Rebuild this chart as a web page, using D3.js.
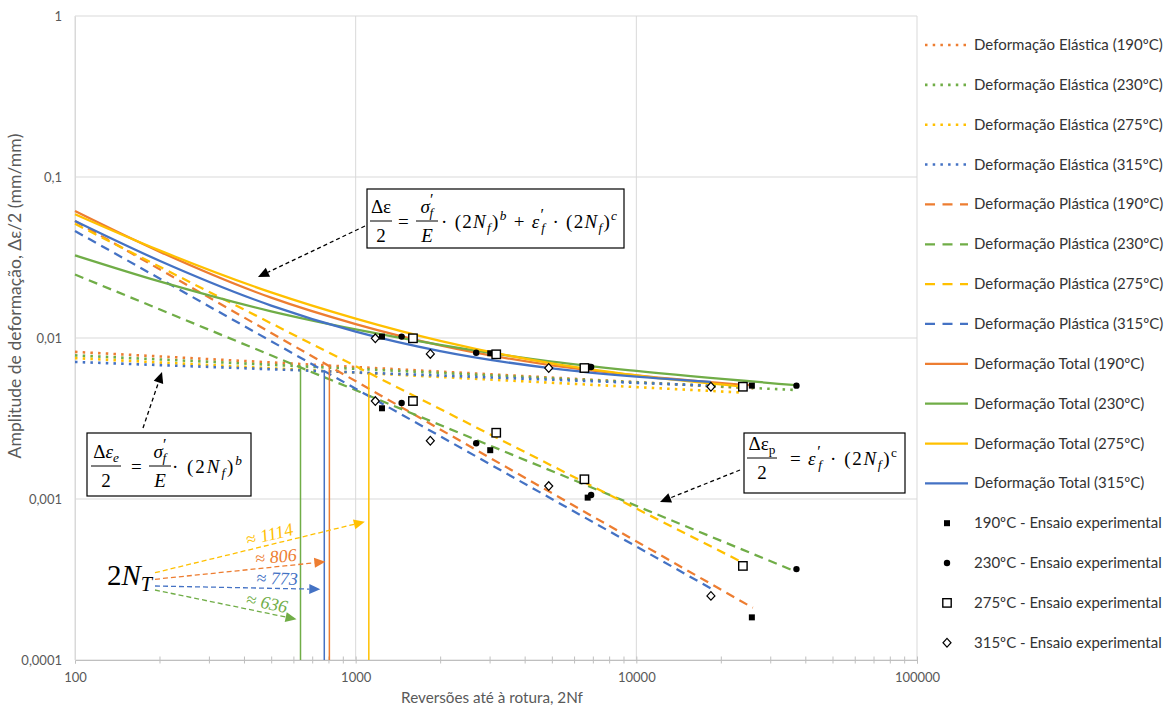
<!DOCTYPE html>
<html>
<head>
<meta charset="utf-8">
<script src="https://cdn.jsdelivr.net/npm/d3@7"></script>
<style>
  body { margin: 0; background: #fff; }
</style>
</head>
<body>
<svg id="chart" width="1173" height="708" font-family="Lato, 'Liberation Sans', sans-serif"></svg>
<script>
// temperatures + excel colours
var temps = ["190", "230", "275", "315"];
var colors = ["#ED7D31", "#70AD47", "#FFC000", "#4472C4"];

// elastic strain lines [2Nf, amplitude]
var elastic190 = [[100, 0.0082], [26000, 0.00486]];
var elastic230 = [[100, 0.0078], [37000, 0.00475]];
var elastic275 = [[100, 0.0075], [24000, 0.00458]];
var elastic315 = [[100, 0.0071], [18400, 0.00506]];

// plastic strain lines
var plastic190 = [[100, 0.0533], [26000, 0.000211]];
var plastic230 = [[100, 0.0248], [37000, 0.000354]];
var plastic275 = [[100, 0.0512], [24000, 0.000402]];
var plastic315 = [[100, 0.0462], [18400, 0.000279]];

// total strain curves
var total190 = [[100, 0.0615], [200, 0.0344], [500, 0.0178], [1000, 0.0122], [2000, 0.0090], [5000, 0.00677], [10000, 0.00587], [26000, 0.00507]];
var total230 = [[100, 0.0326], [200, 0.02245], [500, 0.01464], [1000, 0.0113], [2000, 0.00905], [5000, 0.00714], [10000, 0.00625], [37000, 0.0051]];
var total275 = [[100, 0.0587], [200, 0.0350], [500, 0.0192], [1000, 0.0132], [2000, 0.0096], [5000, 0.00695], [10000, 0.00585], [24000, 0.00498]];
var total315 = [[100, 0.0533], [200, 0.0302], [500, 0.0159], [1000, 0.01095], [2000, 0.00829], [5000, 0.00648], [10000, 0.00575], [18400, 0.00534]];

// experimental tests: reversals, total amplitude, plastic amplitude
var exp190N = [1241, 3016, 6709, 25800];
var exp190Total = [0.0102, 0.00804, 0.00663, 0.00506];
var exp190Plastic = [0.00366, 0.00201, 0.00102, 0.000184];
var exp230N = [1458, 2688, 6900, 37200];
var exp230Total = [0.0102, 0.0081, 0.0066, 0.00506];
var exp230Plastic = [0.00395, 0.00222, 0.00106, 0.000367];
var exp275N = [1600, 3168, 6531, 23970];
var exp275Total = [0.00996, 0.00792, 0.00651, 0.00498];
var exp275Plastic = [0.00406, 0.00258, 0.001326, 0.000384];
var exp315N = [1175, 1845, 4874, 18440];
var exp315Total = [0.00996, 0.00796, 0.00651, 0.00498];
var exp315Plastic = [0.00406, 0.0023, 0.001204, 0.00025];

// transition lives 2N_T
var transN = [806, 636, 1114, 773];

var xTicks = [100, 1000, 10000, 100000];
var yTicks = [0.0001, 0.001, 0.01, 0.1, 1];

var elastic = [elastic190, elastic230, elastic275, elastic315];
var plastic = [plastic190, plastic230, plastic275, plastic315];
var total = [total190, total230, total275, total315];
var expN = [exp190N, exp230N, exp275N, exp315N];
var expTotal = [exp190Total, exp230Total, exp275Total, exp315Total];
var expPlastic = [exp190Plastic, exp230Plastic, exp275Plastic, exp315Plastic];
var markers = ["fsquare", "circle", "osquare", "diamond"];

var svg = d3.select("#chart");
var serif = "'Liberation Serif', 'DejaVu Serif', serif";
var sans = "Lato, 'Liberation Sans', sans-serif";
var grey = "#595959";

var x = d3.scaleLog().domain([100, 100000]).range([75, 917]);
var y = d3.scaleLog().domain([0.0001, 1]).range([660, 16]);

// shrink/grow a text's font so it spans a given width
function fitWidth(t, w) {
  var fs = +t.attr("font-size");
  t.attr("font-size", fs * w / t.node().getComputedTextLength());
}

// gridlines
svg.append("g").selectAll("line").data(xTicks).enter().append("line")
  .attr("x1", d => x(d)).attr("x2", d => x(d)).attr("y1", 16).attr("y2", 660)
  .attr("stroke", "#d9d9d9").attr("stroke-width", 1);
svg.append("g").selectAll("line").data(yTicks).enter().append("line")
  .attr("x1", 75).attr("x2", 917).attr("y1", d => y(d)).attr("y2", d => y(d))
  .attr("stroke", "#d9d9d9").attr("stroke-width", 1);

// x axis with minor ticks
var minor = [];
xTicks.forEach(function(d) { for (var k = 1; k < 10; k++) if (d * k <= 100000) minor.push(d * k); });
var xAxis = svg.append("g").attr("transform", "translate(0,660)")
  .call(d3.axisBottom(x).tickValues(minor).tickSize(3.5).tickPadding(9)
    .tickFormat(d => xTicks.indexOf(d) >= 0 ? String(d) : ""));
xAxis.select(".domain").attr("stroke", "#bfbfbf");
xAxis.selectAll(".tick line").attr("stroke", "#bfbfbf").attr("y1", -3.5);
xAxis.selectAll("text").attr("fill", grey).attr("font-size", 13).attr("font-family", sans);

var fmt = d3.formatLocale({decimal: ",", thousands: ".", grouping: [3], currency: ["", ""]}).format("~f");
var yAxis = svg.append("g").attr("transform", "translate(75,0)")
  .call(d3.axisLeft(y).tickValues(yTicks).tickSize(0).tickPadding(13).tickFormat(d => fmt(d)));
yAxis.select(".domain").attr("stroke", "#d9d9d9");
yAxis.selectAll("text").attr("fill", grey).attr("font-size", 13).attr("font-family", sans);

// axis titles
var xTitle = svg.append("text").attr("x", 492).attr("y", 703).attr("text-anchor", "middle")
  .attr("fill", grey).attr("font-size", 14).text("Reversões até à rotura, 2Nf");
fitWidth(xTitle, 182);
var yTitle = svg.append("text").attr("transform", "translate(21,296) rotate(-90)").attr("text-anchor", "middle")
  .attr("fill", grey).attr("font-size", 14).text("Amplitude de deformação, Δε/2 (mm/mm)");
fitWidth(yTitle, 325);

var line = d3.line().x(d => x(d[0])).y(d => y(d[1]));
var curve = d3.line().x(d => x(d[0])).y(d => y(d[1])).curve(d3.curveMonotoneX);

var dotDash = "2.5,5.2", dash = "9,6";

// series in excel order: elastic, plastic, total
var series = svg.append("g");
elastic.forEach(function(s, i) {
  series.append("path").datum(s).attr("d", line).attr("fill", "none")
    .attr("stroke", colors[i]).attr("stroke-width", 2.6).attr("stroke-dasharray", dotDash);
});
plastic.forEach(function(s, i) {
  series.append("path").datum(s).attr("d", line).attr("fill", "none")
    .attr("stroke", colors[i]).attr("stroke-width", 2.25).attr("stroke-dasharray", dash);
});
total.forEach(function(s, i) {
  series.append("path").datum(s).attr("d", curve).attr("fill", "none")
    .attr("stroke", colors[i]).attr("stroke-width", 2.25);
});

// vertical lines at transition life (elastic = plastic)
function logInterp(s, n) {
  var t = Math.log(n / s[0][0]) / Math.log(s[1][0] / s[0][0]);
  return Math.exp(Math.log(s[0][1]) + t * Math.log(s[1][1] / s[0][1]));
}
transN.forEach(function(n, i) {
  svg.append("line").attr("x1", x(n)).attr("x2", x(n))
    .attr("y1", y(logInterp(elastic[i], n))).attr("y2", 660)
    .attr("stroke", colors[i]).attr("stroke-width", 1.5);
});

// markers
function drawMarker(g, type, cx, cy) {
  if (type == "fsquare") g.append("rect").attr("x", cx - 3).attr("y", cy - 3).attr("width", 6).attr("height", 6).attr("fill", "#000");
  else if (type == "circle") g.append("circle").attr("cx", cx).attr("cy", cy).attr("r", 3.2).attr("fill", "#000");
  else if (type == "osquare") g.append("rect").attr("x", cx - 4.2).attr("y", cy - 4.2).attr("width", 8.4).attr("height", 8.4)
    .attr("fill", "#fff").attr("stroke", "#000").attr("stroke-width", 1.4);
  else g.append("path").attr("d", "M" + cx + "," + (cy - 4.3) + "L" + (cx + 4) + "," + cy + "L" + cx + "," + (cy + 4.3) + "L" + (cx - 4) + "," + cy + "Z")
    .attr("fill", "#fff").attr("stroke", "#000").attr("stroke-width", 1.2);
}
var pts = svg.append("g");
expN.forEach(function(ns, i) {
  ns.forEach(function(n, j) {
    drawMarker(pts, markers[i], x(n), y(expTotal[i][j]));
    drawMarker(pts, markers[i], x(n), y(expPlastic[i][j]));
  });
});

// arrows
function arrow(g, x1, y1, x2, y2, color, da) {
  var a = Math.atan2(y2 - y1, x2 - x1), L = 11, W = 5;
  var bx = x2 - L * Math.cos(a), by = y2 - L * Math.sin(a);
  g.append("line").attr("x1", x1).attr("y1", y1).attr("x2", bx).attr("y2", by)
    .attr("stroke", color).attr("stroke-width", 1.3).attr("stroke-dasharray", da || "4,3");
  g.append("path").attr("d", "M" + x2 + "," + y2 +
    "L" + (bx + W * Math.sin(a)) + "," + (by - W * Math.cos(a)) +
    "L" + (bx - W * Math.sin(a)) + "," + (by + W * Math.cos(a)) + "Z").attr("fill", color);
}

// rich text with sub/superscripts
function rich(g, px, py, size, segs, anchor) {
  var t = g.append("text").attr("x", px).attr("y", py).attr("font-size", size)
    .attr("font-family", serif).attr("text-anchor", anchor || "start").attr("fill", "#000");
  var shift = 0;
  segs.forEach(function(s) {
    var target = s.sup ? -0.42 * size : s.sub ? 0.2 * size : 0;
    var ts = t.append("tspan").text(s.t).attr("dy", target - shift);
    shift = target;
    if (s.sup || s.sub) ts.attr("font-size", size * (s.big ? 0.85 : 0.7));
    if (s.i) ts.attr("font-style", "italic");
    if (s.dx) ts.attr("dx", s.dx);
  });
  return t;
}
function frac(g, cx, yBar, w, size, num, den) {
  rich(g, cx, yBar - 8, size, num, "middle");
  g.append("line").attr("x1", cx - w / 2).attr("x2", cx + w / 2).attr("y1", yBar).attr("y2", yBar)
    .attr("stroke", "#000").attr("stroke-width", 1);
  rich(g, cx, yBar + 21, size, den, "middle");
}
// spread a rich text to a given width
function spread(t, w) {
  t.attr("textLength", w).attr("lengthAdjust", "spacing");
}
var sigmaF = [{t: "σ", i: 1}, {t: "′", sup: 1, big: 1}, {t: "f", sub: 1, i: 1, dx: -4}];
var epsF = [{t: "ε", i: 1}, {t: "′", sup: 1, big: 1}, {t: "f", sub: 1, i: 1, dx: -4}];
function twoNf(expo, it) {
  return [{t: "(2"}, {t: "N", i: 1}, {t: "f", sub: 1, i: 1}, {t: ")"}, {t: expo, sup: 1, i: it}];
}

var ann = svg.append("g");
var fs = 19;

// total strain equation
ann.append("rect").attr("x", 367).attr("y", 189).attr("width", 257).attr("height", 59)
  .attr("fill", "#fff").attr("stroke", "#000").attr("stroke-width", 1.2);
frac(ann, 381, 221, 22, fs, [{t: "Δε"}], [{t: "2"}]);
rich(ann, 398, 228, fs, [{t: "="}]);
frac(ann, 427, 221, 22, fs, sigmaF, [{t: "E", i: 1}]);
spread(rich(ann, 441, 228, fs, [{t: "· "}].concat(twoNf("b", 1), [{t: " + "}], epsF, [{t: " · "}], twoNf("c", 1))), 176);
arrow(ann, 365, 226, 258, 277, "#000");

// elastic equation
ann.append("rect").attr("x", 87).attr("y", 433).attr("width", 164).attr("height", 63)
  .attr("fill", "#fff").attr("stroke", "#000").attr("stroke-width", 1.2);
frac(ann, 106, 466, 30, fs, [{t: "Δ"}, {t: "ε", i: 1}, {t: "e", sub: 1, i: 1}], [{t: "2"}]);
rich(ann, 131, 473, fs, [{t: "="}]);
frac(ann, 160, 466, 22, fs, sigmaF, [{t: "E", i: 1}]);
spread(rich(ann, 172, 473, fs, [{t: "· "}].concat(twoNf("b", 1))), 70);
arrow(ann, 143, 428, 162, 372, "#000");

// plastic equation
ann.append("rect").attr("x", 744).attr("y", 433).attr("width", 161).attr("height", 60)
  .attr("fill", "#fff").attr("stroke", "#000").attr("stroke-width", 1.2);
frac(ann, 762, 458, 30, fs, [{t: "Δε"}, {t: "p", sub: 1}], [{t: "2"}]);
rich(ann, 790, 465, fs, [{t: "="}]);
spread(rich(ann, 808, 465, fs, epsF.concat([{t: " · "}], twoNf("c", 0))), 89);
arrow(ann, 740, 470, 660, 502, "#000");

// 2N_T with arrows to each transition life
rich(ann, 107, 585, 29, [{t: "2"}, {t: "N", i: 1}, {t: "T", sub: 1, i: 1}]);
var startY = [579.3, 590, 572.7, 586];
var endY = [561.7, 619.3, 521.7, 589.3];
var labelX = [277, 265, 272, 277];
transN.forEach(function(n, i) {
  var x2 = x(n) - 4;
  arrow(ann, 155, startY[i], x2, endY[i], colors[i], "5,3");
  var f = (labelX[i] - 155) / (x2 - 155);
  var my = startY[i] + (endY[i] - startY[i]) * f;
  var ang = Math.atan2(endY[i] - startY[i], x2 - 155) * 180 / Math.PI;
  ann.append("text").attr("transform", "translate(" + labelX[i] + "," + my + ") rotate(" + ang + ")")
    .attr("y", -4).attr("text-anchor", "middle").attr("font-family", serif).attr("font-size", 18)
    .attr("fill", colors[i]).html("≈ <tspan font-style='italic'>" + n + "</tspan>");
});

// legend
var legend = [];
temps.forEach((t, i) => legend.push({label: "Deformação Elástica (" + t + "ºC)", kind: "el", c: colors[i]}));
temps.forEach((t, i) => legend.push({label: "Deformação Plástica (" + t + "ºC)", kind: "pl", c: colors[i]}));
temps.forEach((t, i) => legend.push({label: "Deformação Total (" + t + "ºC)", kind: "to", c: colors[i]}));
temps.forEach((t, i) => legend.push({label: t + "ºC - Ensaio experimental", kind: "pt", m: markers[i]}));

var lg = svg.append("g");
legend.forEach(function(d, i) {
  var ly = 45 + i * 39.85;
  if (d.kind == "pt") drawMarker(lg, d.m, 947, ly);
  else lg.append("line").attr("x1", 925).attr("x2", 968).attr("y1", ly).attr("y2", ly)
    .attr("stroke", d.c).attr("stroke-width", d.kind == "el" ? 2.6 : 2.25)
    .attr("stroke-dasharray", d.kind == "el" ? dotDash : d.kind == "pl" ? "10,7.5" : null);
  lg.append("text").attr("x", 974).attr("y", ly + 5).attr("font-size", 15)
    .attr("fill", "#333").text(d.label);
});
</script>
</body>
</html>
